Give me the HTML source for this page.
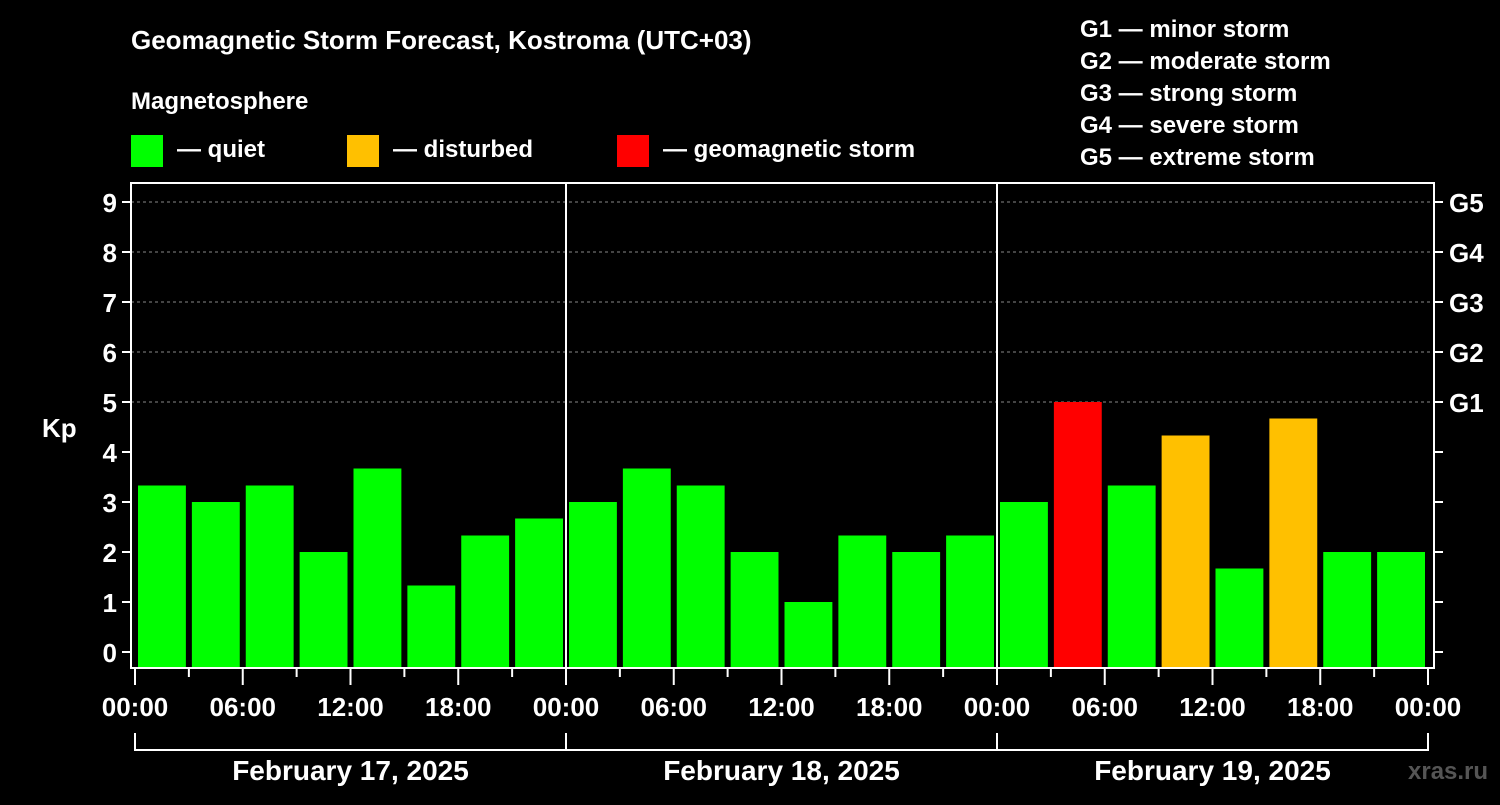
<!DOCTYPE html>
<html><head><meta charset="utf-8"><style>
html,body{margin:0;padding:0;background:#000;}
svg text{font-family:"Liberation Sans",Arial,sans-serif;font-weight:bold;fill:#fff;}
</style></head><body>
<svg id="c" width="1500" height="800" viewBox="0 0 1500 800">
<rect width="1500" height="800" fill="#000"/>
<text x="131" y="49" font-size="26">Geomagnetic Storm Forecast, Kostroma (UTC+03)</text>
<text x="131" y="109" font-size="24">Magnetosphere</text>
<g><rect x="131" y="135" width="32" height="32" fill="#00ff00"/><text x="177" y="157" font-size="24">— quiet</text></g>
<g><rect x="347" y="135" width="32" height="32" fill="#ffc000"/><text x="393" y="157" font-size="24">— disturbed</text></g>
<g><rect x="617" y="135" width="32" height="32" fill="#ff0000"/><text x="663" y="157" font-size="24">— geomagnetic storm</text></g>
<g font-size="24">
<text x="1080" y="37">G1 — minor storm</text>
<text x="1080" y="69">G2 — moderate storm</text>
<text x="1080" y="101">G3 — strong storm</text>
<text x="1080" y="133">G4 — severe storm</text>
<text x="1080" y="165">G5 — extreme storm</text>
</g>
<text x="42" y="437" font-size="26">Kp</text>
<text x="1408" y="779" font-size="24" fill="#555" style="fill:#555">xras.ru</text>
<g id="grid"></g><g id="bars"></g><g id="axes"></g>
</svg>
<script>
const values=[3.33,3,3.33,2,3.67,1.33,2.33,2.67, 3,3.67,3.33,2,1,2.33,2,2.33, 3,5,3.33,4.33,1.67,4.67,2,2];
const kpTicks=[0,1,2,3,4,5,6,7,8,9];
const gLabels=["G1","G2","G3","G4","G5"];
const timeLabels=["00:00","06:00","12:00","18:00"];
const dayLabels=["February 17, 2025","February 18, 2025","February 19, 2025"];
const NS="http://www.w3.org/2000/svg";
const L=131,R=1434,T=183,B=668;
const y=v=>652-v*50;
const x=h=>135+h*(1293/72);
function mk(tag,attrs,parent,txt){const e=document.createElementNS(NS,tag);for(const k in attrs)e.setAttribute(k,attrs[k]);if(txt!==undefined)e.textContent=txt;parent.appendChild(e);return e;}
const grid=document.getElementById('grid'),bars=document.getElementById('bars'),axes=document.getElementById('axes');
// grid lines for G levels
gLabels.forEach((g,i)=>{const v=5+i;
 const ln=mk('line',{x1:L,x2:R,y1:y(v),y2:y(v),stroke:'#888','stroke-dasharray':'3,3','stroke-width':1},grid);
 
 
 const t=mk('text',{x:1449,y:y(v)+10,'font-size':26},axes,g);
 
 
});
values.forEach((v,i)=>{
 const c=v>=5?'#ff0000':(v>=4?'#ffc000':'#00ff00');
 const x0=x(i*3)+3,x1=x(i*3+3)-3;
 const r=mk('rect',{x:x0,y:y(v),width:x1-x0,height:B-y(v),fill:c},bars);
 
 
});
// frame
const fr=mk('rect',{x:L,y:T,width:R-L,height:B-T,fill:'none',stroke:'#fff','stroke-width':2},axes);


[1,2].forEach(d=>{const l=mk('line',{x1:x(d*24),x2:x(d*24),y1:T,y2:B,stroke:'#fff','stroke-width':2},axes);
 
 });
kpTicks.forEach(v=>{
 mk('line',{x1:L-9,x2:L,y1:y(v),y2:y(v),stroke:'#fff','stroke-width':2},axes);
 mk('line',{x1:R,x2:R+9,y1:y(v),y2:y(v),stroke:'#fff','stroke-width':2},axes);
 const t=mk('text',{x:L-14,y:y(v)+10,'font-size':26,'text-anchor':'end'},axes,String(v));
 
 
});
for(let h=0;h<=72;h+=3){
 const major=h%6===0;
 mk('line',{x1:x(h),x2:x(h),y1:B,y2:major?685:677,stroke:'#fff','stroke-width':2},axes);
 if(major){const t=mk('text',{x:x(h),y:716,'font-size':26,'text-anchor':'middle'},axes,timeLabels[(h/6)%4]);
  
  }
}
dayLabels.forEach((d,i)=>{
 const a=x(i*24),b=x(i*24+24);
 mk('path',{d:`M${a},733V750H${b}V733`,fill:'none',stroke:'#fff','stroke-width':2},axes);
 const t=mk('text',{x:(a+b)/2,y:780,'font-size':28,'text-anchor':'middle'},axes,d);
 
 
});
</script>
</body></html>
